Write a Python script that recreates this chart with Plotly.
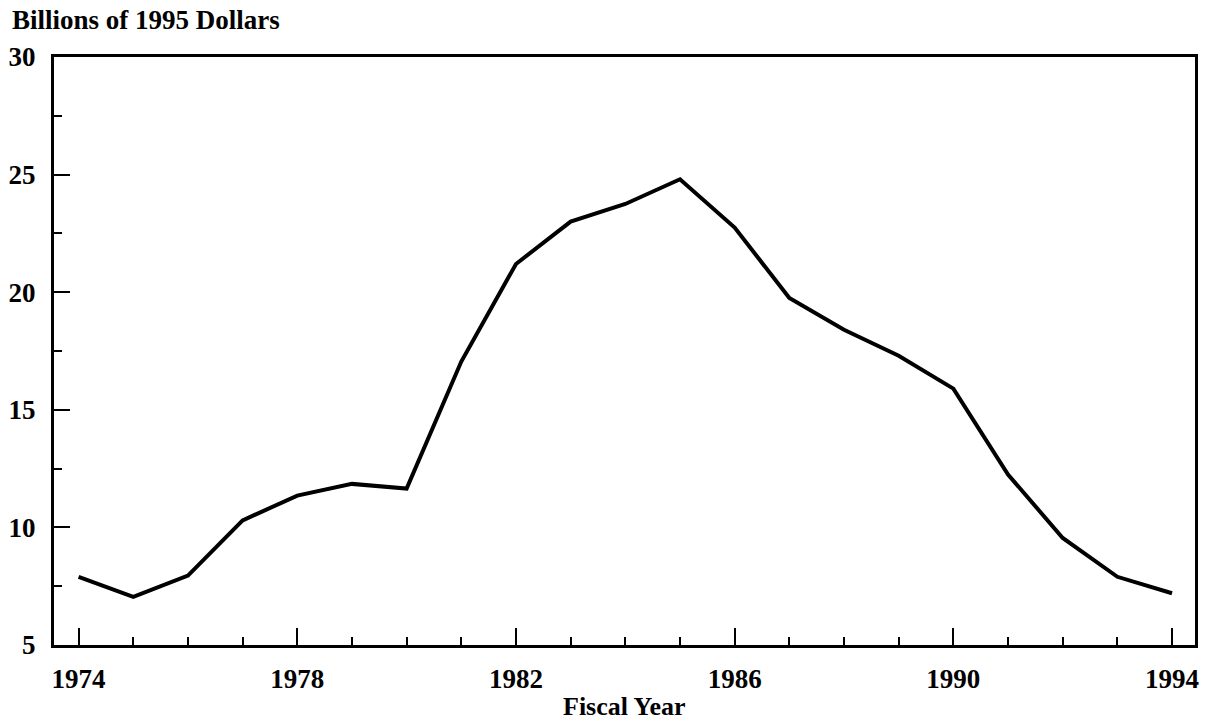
import plotly.graph_objects as go

years = list(range(1974, 1995))
values = [7.9, 7.05, 7.95, 10.3, 11.35, 11.85, 11.65, 17.05, 21.2, 23.0, 23.75, 24.8,
          22.75, 19.75, 18.4, 17.3, 15.9, 12.25, 9.55, 7.9, 7.2]
x_ticks = [1974, 1978, 1982, 1986, 1990, 1994]
y_ticks = [5, 10, 15, 20, 25, 30]

FONT = "Liberation Serif"

fig = go.Figure()
fig.add_trace(go.Scatter(x=years, y=values, mode="lines",
                         line=dict(color="black", width=4), hoverinfo="skip"))

fig.update_layout(
    width=1209, height=723,
    margin=dict(l=54, r=14, t=57, b=78, autoexpand=False),
    paper_bgcolor="white", plot_bgcolor="white",
    showlegend=False,
    font=dict(family=FONT, color="black"),
)

fig.update_xaxes(
    range=[1973.55, 1994.42], automargin=False,
    tickmode="array", tickvals=x_ticks, ticktext=[str(v) for v in x_ticks],
    ticks="inside", ticklen=17, tickwidth=2, tickcolor="black",
    minor=dict(dtick=1, tick0=1974, ticks="inside", ticklen=8, tickwidth=2, tickcolor="black"),
    showline=True, linecolor="black", linewidth=3, mirror=True,
    showgrid=False, zeroline=False,
    tickfont=dict(family=FONT, size=27, color="black", weight="bold"),
    ticklabelstandoff=8,
)
fig.update_yaxes(
    range=[5, 30], automargin=False,
    tickmode="array", tickvals=y_ticks, ticktext=[str(v) for v in y_ticks],
    ticks="inside", ticklen=16, tickwidth=2, tickcolor="black",
    minor=dict(dtick=2.5, tick0=5, ticks="inside", ticklen=8, tickwidth=2, tickcolor="black"),
    showline=True, linecolor="black", linewidth=3, mirror=True,
    showgrid=False, zeroline=False,
    tickfont=dict(family=FONT, size=27, color="black", weight="bold"),
    ticklabelstandoff=10,
)

fig.add_annotation(text="<b>Billions of 1995 Dollars</b>", xref="paper", yref="paper",
                   x=-0.0386, y=1.063, xanchor="left", yanchor="middle", showarrow=False,
                   font=dict(family=FONT, size=27, color="black"))
fig.add_annotation(text="<b>Fiscal Year</b>", xref="paper", yref="paper",
                   x=0.5, y=-0.104, xanchor="center", yanchor="middle", showarrow=False,
                   font=dict(family=FONT, size=26, color="black"))

fig.write_html("out.html", config={"displayModeBar": False},
               post_script="document.body.style.margin='0px';document.body.style.overflow='hidden';")
